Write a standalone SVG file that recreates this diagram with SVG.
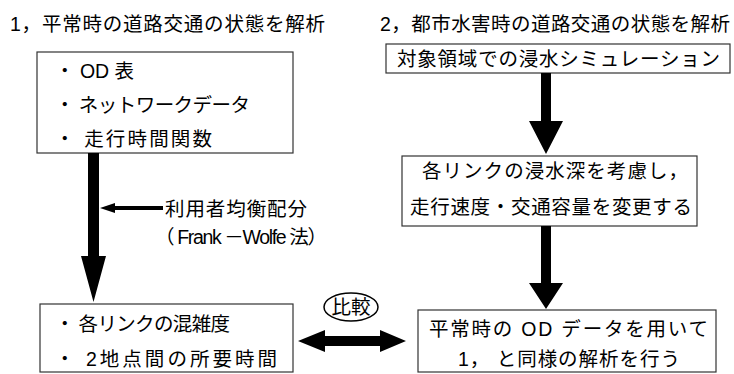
<svg xmlns="http://www.w3.org/2000/svg" width="734" height="374" viewBox="0 0 734 374">
<style>
text{font-family:"Liberation Sans","Noto Sans CJK JP",sans-serif;font-size:19.5px;fill:#000}
.box{fill:#fff;stroke:#333;stroke-width:1.2}
.arr{fill:#000}
</style>
<rect width="734" height="374" fill="#fff"/>
<g id="title1"><text x="10" y="31" textLength="315" lengthAdjust="spacing">1，平常時の道路交通の状態を解析</text></g>
<g id="title2"><text x="380" y="31" textLength="350" lengthAdjust="spacing">2，都市水害時の道路交通の状態を解析</text></g>
<g id="input">
<rect class="box" x="37" y="52" width="256" height="101"/>
<text x="55" y="78">・ OD 表</text>
<text x="55" y="112" textLength="195" lengthAdjust="spacing">・ ネットワークデータ</text>
<text x="55" y="146" textLength="157" lengthAdjust="spacing">・ 走行時間関数</text>
</g>
<g id="result">
<rect class="box" x="40" y="304" width="253" height="68"/>
<text x="55" y="331" textLength="175" lengthAdjust="spacing">・ 各リンクの混雑度</text>
<text x="55" y="366" textLength="222" lengthAdjust="spacing">・ 2地点間の所要時間</text>
</g>
<g id="label-ue">
<text x="165" y="216" textLength="142" lengthAdjust="spacing">利用者均衡配分</text>
<text x="155" y="244" textLength="172" lengthAdjust="spacing">（ Frank －Wolfe 法）</text>
</g>
<g id="sim">
<rect class="box" x="386" y="44" width="344" height="29"/>
<text x="397" y="66" textLength="323" lengthAdjust="spacing">対象領域での浸水シミュレーション</text>
</g>
<g id="modify">
<rect class="box" x="402" y="156" width="295" height="70"/>
<text x="422" y="178" textLength="266" lengthAdjust="spacing">各リンクの浸水深を考慮し，</text>
<text x="410" y="214" textLength="282" lengthAdjust="spacing">走行速度・交通容量を変更する</text>
</g>
<g id="flood-analysis">
<rect class="box" x="418" y="310" width="298" height="62"/>
<text x="429" y="336" textLength="279" lengthAdjust="spacing">平常時の OD データを用いて</text>
<text x="458" y="366" textLength="222" lengthAdjust="spacing">1， と同様の解析を行う</text>
</g>
<g id="compare">
<ellipse cx="351" cy="307" rx="27" ry="14" fill="#fff" stroke="#000" stroke-width="1.5"/>
<text x="351" y="314" text-anchor="middle">比較</text>
</g>
<g id="connectors">
<polygon class="arr" points="88,153 99,153 99,256 106,256 93.5,302 81,256 88,256"/>
<polygon class="arr" points="100,208 115,203 115,206 163,206 163,210 115,210 115,213"/>
<polygon class="arr" points="541,73 551,73 551,121 563,121 546,154 529,121 541,121"/>
<polygon class="arr" points="541,226 551,226 551,283 563,283 546,309 529,283 541,283"/>
<polygon class="arr" points="298,341 325,330 325,336 380,336 380,330 406,341 380,352 380,346 325,346 325,352"/>
</g>
</svg>
